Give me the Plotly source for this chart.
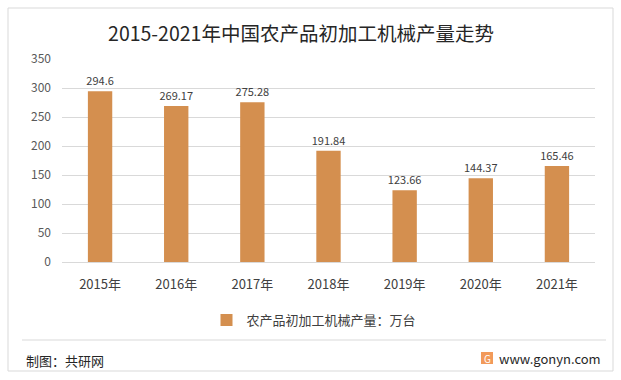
import plotly.graph_objects as go

years = ["2015年", "2016年", "2017年", "2018年", "2019年", "2020年", "2021年"]
values = [294.6, 269.17, 275.28, 191.84, 123.66, 144.37, 165.46]
labels = ["294.6", "269.17", "275.28", "191.84", "123.66", "144.37", "165.46"]
series_name = "农产品初加工机械产量：万台"
title_text = "2015-2021年中国农产品初加工机械产量走势"
y_ticks = [0, 50, 100, 150, 200, 250, 300, 350]

W, H = 621, 380
L, R, T, B = 62, 26, 59, 118
PW, PH = W - L - R, H - T - B

def xp(px):
    return (px - L) / PW

def yp(py):
    return (H - B - py) / PH

FONT = "Noto Sans CJK SC, Microsoft YaHei, sans-serif"
BAR = "#D48F4F"

fig = go.Figure(
    go.Bar(
        x=years,
        y=values,
        name=series_name,
        marker=dict(color=BAR, line=dict(width=0)),
        text=labels,
        textposition="outside",
        constraintext="none",
        textfont=dict(size=11, color="#404040", family=FONT),
        cliponaxis=False,
        showlegend=True,
    )
)

fig.update_layout(
    width=W,
    height=H,
    margin=dict(l=L, r=R, t=T, b=B, autoexpand=False),
    paper_bgcolor="white",
    plot_bgcolor="white",
    bargap=0.68,
    font=dict(family=FONT, color="#595959"),
    title=dict(
        text=title_text,
        x=301 / W,
        xanchor="center",
        y=1 - 34 / H,
        yanchor="middle",
        yref="container",
        font=dict(size=19.5, color="#262626", family=FONT),
    ),
    xaxis=dict(
        showgrid=False,
        showline=False,
        zeroline=False,
        ticks="",
        tickfont=dict(size=13, color="#404040"),
        ticklabelstandoff=13,
    ),
    yaxis=dict(
        range=[0, 350],
        tickvals=y_ticks,
        showgrid=True,
        gridcolor="#d9d9d9",
        gridwidth=1,
        zeroline=True,
        zerolinecolor="#d9d9d9",
        zerolinewidth=1,
        showline=False,
        ticks="",
        tickfont=dict(size=12, color="#595959"),
        ticklabelstandoff=10,
    ),
    legend=dict(
        orientation="h",
        x=xp(314),
        xanchor="center",
        y=yp(320),
        yanchor="middle",
        font=dict(size=13, color="#404040"),
        itemwidth=30,
        bgcolor="rgba(0,0,0,0)",
    ),
    shapes=[
        dict(
            type="rect", xref="paper", yref="paper",
            x0=xp(8), x1=xp(613), y0=yp(371), y1=yp(8),
            line=dict(color="#d9d9d9", width=1), fillcolor="rgba(0,0,0,0)",
            layer="below",
        ),
        dict(
            type="line", xref="paper", yref="paper",
            x0=xp(22), x1=xp(606), y0=yp(340), y1=yp(340),
            line=dict(color="#d9d9d9", width=1),
        ),
        dict(
            type="rect", xref="paper", yref="paper",
            x0=xp(481), x1=xp(493), y0=yp(364), y1=yp(352),
            line=dict(width=0), fillcolor="#F29A5A",
        ),
    ],
    annotations=[
        dict(
            text="制图：共研网", xref="paper", yref="paper",
            x=xp(24), y=yp(360), xanchor="left", yanchor="middle",
            showarrow=False, font=dict(size=13, color="#262626", family=FONT),
        ),
        dict(
            text="G", xref="paper", yref="paper",
            x=xp(487), y=yp(358), xanchor="center", yanchor="middle",
            showarrow=False, font=dict(size=10, color="white", family=FONT),
        ),
        dict(
            text="www.gonyn.com", xref="paper", yref="paper",
            x=xp(497), y=yp(358), xanchor="left", yanchor="middle",
            showarrow=False, font=dict(size=13, color="#262626", family=FONT),
        ),
    ],
)

fig.write_html(
    "out.html",
    config={"displayModeBar": False},
    post_script="document.body.style.margin='0px';",
)
